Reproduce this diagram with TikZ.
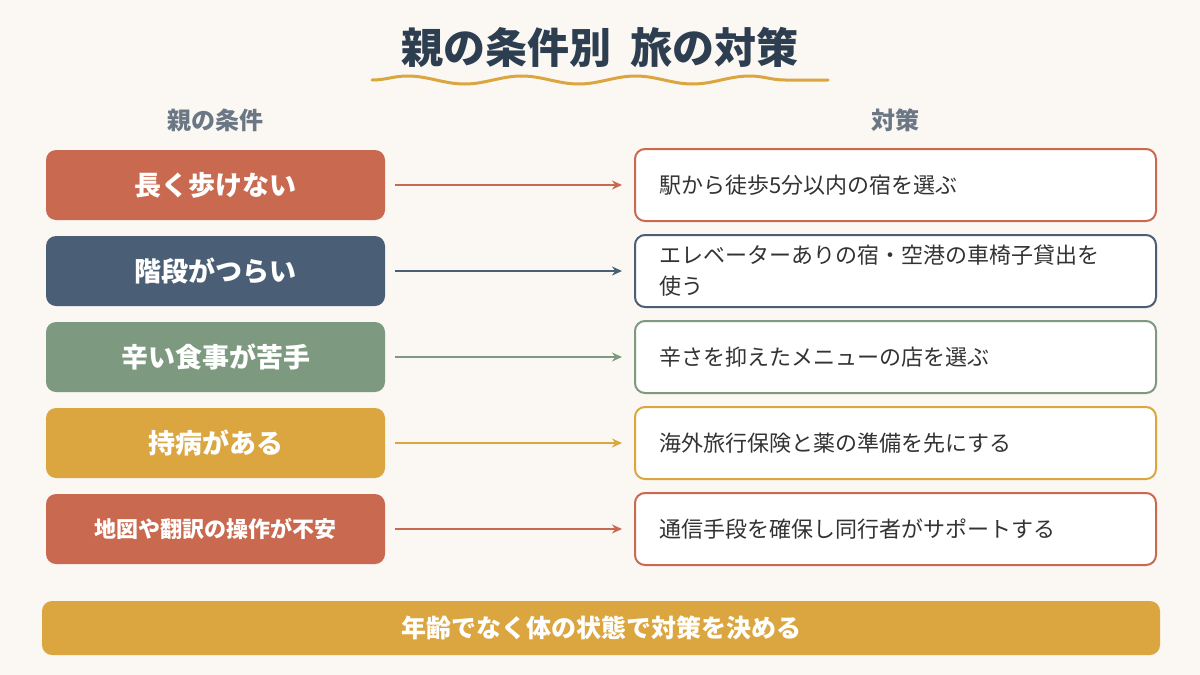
\documentclass[tikz,border=0pt]{standalone}
\usepackage{fontspec}
\setmainfont{Noto Sans CJK JP}
\usetikzlibrary{decorations.pathmorphing,arrows.meta}
\definecolor{bg}{HTML}{FBF7F3}
\definecolor{navy}{HTML}{2D3E50}
\definecolor{grayt}{HTML}{6B7785}
\definecolor{terra}{HTML}{C96A50}
\definecolor{slate}{HTML}{4A5F75}
\definecolor{sage}{HTML}{7D9A80}
\definecolor{gold}{HTML}{DBA640}
\definecolor{txt}{HTML}{333333}
\begin{document}
\begin{tikzpicture}[x=1pt,y=-1pt,
 lbox/.style={rounded corners=10pt,minimum width=339pt,minimum height=70pt,inner sep=0pt,text=white,font=\fontsize{27}{30}\selectfont\bfseries},
 rbox/.style={draw=#1,line width=2pt,fill=white,rounded corners=10pt,minimum width=521pt,minimum height=72pt,inner sep=0pt},
 rtxt/.style={anchor=west,text=txt,font=\fontsize{22}{31}\selectfont,align=left,text width=480pt},
 arr/.style={draw=#1,line width=1.8pt,-{Stealth[length=10pt,width=9pt]}},
 head/.style={text=grayt,font=\fontsize{24}{28}\selectfont\bfseries}]
\fill[bg] (0,0) rectangle (1200,675);
\useasboundingbox (0,0) rectangle (1200,675);
\node[text=navy,font=\fontsize{42}{48}\selectfont\bfseries] (title) at (600,47) {親の条件別\ \ 旅の対策};
\draw[gold,line width=3pt,line cap=round,decorate,decoration={snake,segment length=114pt,amplitude=4pt}] (372,80) coordinate (w1) -- (828,80) coordinate (w2);
\node[head] (h1) at (215,120) {親の条件};
\node[head] (h2) at (895,120) {対策};
\foreach \i/\y/\c/\l/\r in {1/185/terra/長く歩けない/駅から徒歩5分以内の宿を選ぶ,
 2/271/slate/階段がつらい/{エレベーターありの宿・空港の車椅子貸出を\\使う},
 3/357/sage/辛い食事が苦手/辛さを抑えたメニューの店を選ぶ,
 4/443/gold/持病がある/海外旅行保険と薬の準備を先にする}{
 \node[lbox,fill=\c] (L\i) at (215.5,\y) {\l};
 \node[rbox=\c] (R\i) at (895.5,\y) {};
 \node[rtxt] (T\i) at (656,\y) {\r};
 \draw[arr=\c] (L\i.east) ++(10,0) coordinate (s\i) -- ([xshift=-12pt]R\i.west);
}
\node[lbox,fill=terra,font=\fontsize{22}{26}\selectfont\bfseries] (L5) at (215.5,529) {地図や翻訳の操作が不安};
\node[rbox=terra] (R5) at (895.5,529) {};
\node[rtxt] (T5) at (656,529) {通信手段を確保し同行者がサポートする};
\draw[arr=terra] ([xshift=10pt]L5.east) -- ([xshift=-12pt]R5.west);
\node[fill=gold,rounded corners=10pt,minimum width=1118pt,minimum height=54pt,text=white,font=\fontsize{25}{28}\selectfont\bfseries] (bar) at (601,628) {年齢でなく体の状態で対策を決める};
\end{tikzpicture}
\end{document}
